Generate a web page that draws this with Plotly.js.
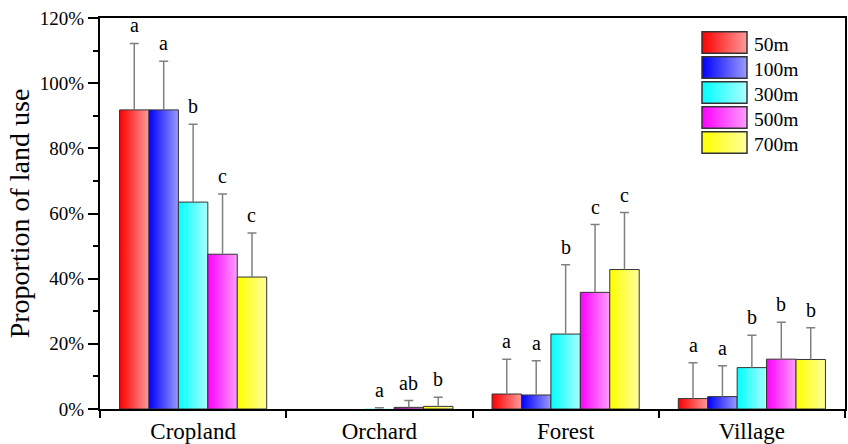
<!DOCTYPE html>
<html>
<head>
<meta charset="utf-8">
<script src="https://cdn.plot.ly/plotly-3.0.1.min.js"></script>
<style>
  html, body { margin: 0; padding: 0; background: #fff; }
  #chart { width: 848px; height: 444px; }
</style>
</head>
<body>
<div id="chart"></div>
<script>
// ---- data ----
const categories = ['Cropland', 'Orchard', 'Forest', 'Village'];
const seriesNames = ['50m', '100m', '300m', '500m', '700m'];

const v50  = [91.8, 0,    4.6,  3.2];
const v100 = [91.8, 0,    4.3,  3.8];
const v300 = [63.5, 0.1,  23.0, 12.7];
const v500 = [47.5, 0.5,  35.8, 15.3];
const v700 = [40.5, 0.8,  42.8, 15.2];

const e50  = [20.4, NaN, 10.7, 11.0];
const e100 = [14.9, NaN, 10.5, 9.5];
const e300 = [23.9, 0.3, 21.3, 9.9];
const e500 = [18.5, 2.1, 20.8, 11.3];
const e700 = [13.5, 2.8, 17.5, 9.7];

const l50  = ['a', '',   'a', 'a'];
const l100 = ['a', '',   'a', 'a'];
const l300 = ['b', 'a',  'b', 'b'];
const l500 = ['c', 'ab', 'c', 'b'];
const l700 = ['c', 'b',  'c', 'b'];

const yTickVals = [0, 20, 40, 60, 80, 100, 120];
const yTickText = ['0%', '20%', '40%', '60%', '80%', '100%', '120%'];

// ---- styles ----
const values = [v50, v100, v300, v500, v700];
const errors = [e50, e100, e300, e500, e700];
const letters = [l50, l100, l300, l500, l700];
const gradStops = [
  ['#ff0000', '#ff9a9a'],
  ['#0000ff', '#9a9aff'],
  ['#00ffff', '#aaffff'],
  ['#ff00ff', '#ff9cff'],
  ['#ffff00', '#ffff9c']
];
const FONT = 'Liberation Serif, Times New Roman, serif';
const bargap = 0.21;

const data = seriesNames.map((name, i) => ({
  type: 'bar',
  name: name,
  x: categories,
  y: values[i],
  marker: { color: gradStops[i][0], line: { color: '#333333', width: 1 } },
  error_y: { type: 'data', symmetric: false, array: errors[i],
             color: '#808080', thickness: 1.5, width: 4.5 },
  hoverinfo: 'none'
}));

const barW = (1 - bargap) / seriesNames.length;
const annotations = [];
letters.forEach((ls, i) => {
  ls.forEach((t, c) => {
    if (!t) return;
    const top = values[i][c] + (isNaN(errors[i][c]) ? 0 : errors[i][c]);
    annotations.push({
      xref: 'x', yref: 'y',
      x: c + (i - (seriesNames.length - 1) / 2) * barW,
      y: top, text: t, showarrow: false,
      xanchor: 'center', yanchor: 'bottom', yshift: 5,
      font: { family: FONT, size: 20, color: '#000' }
    });
  });
});

const layout = {
  width: 848, height: 444,
  margin: { l: 100, r: 3, t: 18, b: 35, pad: 0 },
  paper_bgcolor: '#ffffff', plot_bgcolor: '#ffffff',
  barmode: 'group', bargap: bargap, bargroupgap: 0,
  showlegend: true,
  legend: {
    x: (694.5 - 100) / 745, y: 1 - (23 - 18) / 391,
    xanchor: 'left', yanchor: 'top',
    bgcolor: 'rgba(0,0,0,0)', borderwidth: 0,
    itemwidth: 50, tracegroupgap: 0,
    font: { family: FONT, size: 19.5, color: '#000' }
  },
  xaxis: {
    type: 'category', tickson: 'boundaries',
    ticks: 'outside', ticklen: 7, tickwidth: 2, tickcolor: '#000',
    showline: true, linewidth: 2, linecolor: '#000', mirror: true,
    showgrid: false, zeroline: false,
    tickfont: { family: FONT, size: 23, color: '#000' }
  },
  yaxis: {
    range: [0, 120], tickmode: 'array', tickvals: yTickVals, ticktext: yTickText,
    ticks: 'outside', ticklen: 10, tickwidth: 2, tickcolor: '#000',
    minor: { dtick: 10, ticks: 'outside', ticklen: 5, tickwidth: 2, tickcolor: '#000' },
    showline: true, linewidth: 2, linecolor: '#000', mirror: true,
    showgrid: false, zeroline: false,
    tickfont: { family: FONT, size: 19, color: '#000' },
    title: { text: 'Proportion of land use', standoff: 2,
             font: { family: FONT, size: 28, color: '#000' } }
  },
  annotations: annotations
};

const gd = document.getElementById('chart');
Plotly.newPlot(gd, data, layout, { staticPlot: true, displayModeBar: false }).then(() => {
  const NS = 'http://www.w3.org/2000/svg';
  const svg = gd.querySelector('.main-svg');
  let defs = svg.querySelector('defs');
  if (!defs) { defs = document.createElementNS(NS, 'defs'); svg.insertBefore(defs, svg.firstChild); }
  gradStops.forEach((st, i) => {
    const lg = document.createElementNS(NS, 'linearGradient');
    lg.setAttribute('id', 'bargrad' + i);
    lg.setAttribute('x1', '0'); lg.setAttribute('y1', '0');
    lg.setAttribute('x2', '1'); lg.setAttribute('y2', '0');
    [[0, st[0]], [1, st[1]]].forEach(([o, c]) => {
      const s = document.createElementNS(NS, 'stop');
      s.setAttribute('offset', o); s.setAttribute('stop-color', c);
      lg.appendChild(s);
    });
    defs.appendChild(lg);
  });
  gd.querySelectorAll('.barlayer .trace').forEach((tr, i) => {
    tr.querySelectorAll('.point path').forEach(p => {
      p.style.fill = 'url(#bargrad' + i + ')';
      const bb = p.getBBox();
      if (bb.height < 0.5) p.style.strokeWidth = '0px';
    });
  });
  gd.querySelectorAll('.errorbar path').forEach(p => {
    const d = p.getAttribute('d');
    if (d) p.setAttribute('d', d.replace(/m-[\d.]+,0h[\d.]+$/, ''));
  });
  // legend: compact spacing (25px) and large gradient swatches
  const items = gd.querySelectorAll('.legend .traces');
  items.forEach((tr, i) => {
    const txt = tr.querySelector('text.legendtext');
    if (txt) {
      const r = txt.getBoundingClientRect();
      const dx = 754 - r.left;
      const dy = (44 + 25 * i) - (r.top + r.height / 2);
      const m = /translate\(\s*([-\d.eE]+)[ ,]+([-\d.eE]+)\s*\)/.exec(tr.getAttribute('transform') || '');
      const x0 = m ? +m[1] : 0, y0 = m ? +m[2] : 0;
      tr.setAttribute('transform', 'translate(' + (x0 + dx) + ',' + (y0 + dy) + ')');
    }
    const p = tr.querySelector('.legendpoints path');
    if (!p) return;
    p.removeAttribute('transform');
    const inv = p.getScreenCTM().inverse();
    const pt = svg.createSVGPoint();
    pt.x = 702; pt.y = 31.7 + 25 * i;
    const a = pt.matrixTransform(inv);
    pt.x = 747; pt.y = 53.3 + 25 * i;
    const b = pt.matrixTransform(inv);
    p.setAttribute('d', 'M' + a.x + ',' + a.y + 'H' + b.x + 'V' + b.y + 'H' + a.x + 'Z');
    p.style.fill = 'url(#bargrad' + i + ')';
    p.style.stroke = '#333333';
    p.style.strokeWidth = '1.5px';
  });
});
</script>
</body>
</html>
